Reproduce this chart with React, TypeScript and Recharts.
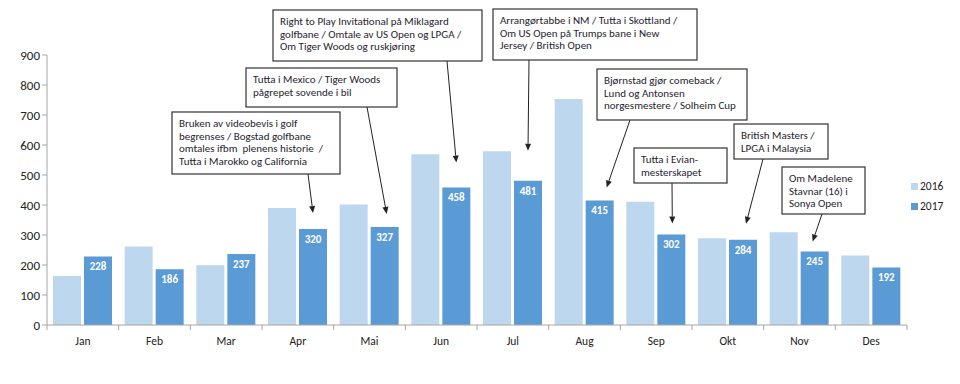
import { BarChart, Bar, XAxis, YAxis, LabelList } from 'recharts';

const months = ['Jan', 'Feb', 'Mar', 'Apr', 'Mai', 'Jun', 'Jul', 'Aug', 'Sep', 'Okt', 'Nov', 'Des'];
const sales2016 = [163, 262, 199, 390, 402, 569, 579, 753, 411, 289, 309, 232];
const sales2017 = [228, 186, 237, 320, 327, 458, 481, 415, 302, 284, 245, 192];
const yTicks = [0, 100, 200, 300, 400, 500, 600, 700, 800, 900];
const seriesNames = ['2016', '2017'];

// tekst i merknadsboksene
const noteTexts: Record<string, string[]> = {
    Apr: ['Bruken av videobevis i golf', 'begrenses / Bogstad golfbane', 'omtales ifbm  plenens historie  /', 'Tutta i Marokko og California'],
    Mai: ['Tutta i Mexico / Tiger Woods', 'pågrepet sovende i bil'],
    Jun: ['Right to Play Invitational på Miklagard', 'golfbane / Omtale av US Open og LPGA /', 'Om Tiger Woods og ruskjøring'],
    Jul: ['Arrangørtabbe i NM / Tutta i Skottland /', 'Om US Open på Trumps bane i New', 'Jersey / British Open'],
    Aug: ['Bjørnstad gjør comeback /', 'Lund og Antonsen', 'norgesmestere / Solheim Cup'],
    Sep: ['Tutta i Evian-', 'mesterskapet'],
    Okt: ['British Masters /', 'LPGA i Malaysia'],
    Nov: ['Om Madelene', 'Stavnar (16) i', 'Sonya Open'],
};

// plassering av boksene (piksler), pilstart og avstand over søylen
const noteLayout: Record<string, { x: number; y: number; w: number; h: number; sx: number; sy: number; dx: number; gap: number }> = {
    Apr: {x: 172, y: 112, w: 168, h: 62, sx: 308, sy: 174, dx: 0, gap: 16},
    Mai: {x: 246, y: 68, w: 151, h: 39, sx: 367, sy: 107, dx: 2, gap: 13},
    Jun: {x: 273, y: 10, w: 209, h: 51, sx: 447, sy: 61, dx: 0, gap: 25},
    Jul: {x: 493, y: 9, w: 204, h: 51, sx: 529, sy: 60, dx: 0, gap: 30},
    Aug: {x: 597, y: 69, w: 150, h: 51, sx: 630, sy: 120, dx: 7, gap: 13},
    Sep: {x: 634, y: 148, w: 93, h: 35, sx: 672, sy: 183, dx: 1, gap: 11},
    Okt: {x: 734, y: 124, w: 94, h: 35, sx: 763, sy: 159, dx: 3, gap: 16},
    Nov: {x: 782, y: 167, w: 83, h: 47, sx: 822, sy: 214, dx: -2, gap: 10},
};

const W = 960;
const H = 384;
const MARGIN = {top: 55, right: 53, bottom: 29, left: 0};
const Y_W = 47;
const BAND = (W - MARGIN.left - MARGIN.right - Y_W) / months.length;
const FONT = 'Carlito, Calibri, Lato, sans-serif';
const LIGHT = '#bdd7ee';
const DARK = '#5b9bd5';
const AXIS = '#a6a6a6';

const data = months.map((m, i) => ({month: m, y2016: sales2016[i], y2017: sales2017[i]}));

const MonthTick = (props: any) => {
    const {x, y, payload, index} = props;
    return (
        <g>
            <line x1={x - BAND / 2} x2={x - BAND / 2} y1={y} y2={y + 5} stroke={AXIS}/>
            {index === months.length - 1 && (
                <line x1={x + BAND / 2} x2={x + BAND / 2} y1={y} y2={y + 5} stroke={AXIS}/>
            )}
            <text x={x} y={y + 20} textAnchor="middle" fontSize={11.5} fill="#222" fontFamily={FONT}>
                {payload.value}
            </text>
        </g>
    );
};

const NoteLabel = (props: any) => {
    const {x, y, width, value} = props;
    const index = props.index ?? sales2017.indexOf(value);
    const m = months[index];
    const lines = noteTexts[m];
    const L = noteLayout[m];
    if (!lines || !L) return null;

    const ex = Number(x) + Number(width) / 2 + L.dx;
    const ey = Number(y) - L.gap;
    const ang = Math.atan2(ey - L.sy, ex - L.sx);
    const c = Math.cos(ang);
    const s = Math.sin(ang);
    const bx = ex - 7 * c;
    const by = ey - 7 * s;

    return (
        <g>
            <line x1={L.sx} y1={L.sy} x2={bx} y2={by} stroke="#222" strokeWidth={1}/>
            <polygon
                points={`${ex},${ey} ${bx + 3 * s},${by - 3 * c} ${bx - 3 * s},${by + 3 * c}`}
                fill="#222"
            />
            <rect x={L.x} y={L.y} width={L.w} height={L.h} fill="#fff" stroke="#333" strokeWidth={1.2}/>
            <text x={L.x + 7} y={L.y + 15} fontSize={11} fill="#1f2430" fontFamily={FONT}>
                {lines.map((t, i) => (
                    <tspan key={i} x={L.x + 7} y={L.y + 15 + i * 12.7} xmlSpace="preserve">{t}</tspan>
                ))}
            </text>
        </g>
    );
};

export default function App() {
    return (
        <div style={{position: 'absolute', left: 0, top: 0, width: W, height: H, background: '#fff'}}>
            <BarChart
                width={W}
                height={H}
                data={data}
                margin={MARGIN}
                barCategoryGap={6}
                barGap={3}
            >
                <XAxis
                    dataKey="month"
                    interval={0}
                    tickLine={false}
                    tickSize={0}
                    tickMargin={0}
                    axisLine={{stroke: AXIS}}
                    tick={<MonthTick/>}
                    height={30}
                />
                <YAxis
                    width={Y_W}
                    domain={[0, 900]}
                    ticks={yTicks}
                    interval={0}
                    tickSize={5}
                    axisLine={{stroke: AXIS}}
                    tickLine={{stroke: AXIS}}
                    tick={{fontSize: 13, fill: '#222', fontFamily: FONT}}
                />
                <Bar dataKey="y2016" name={seriesNames[0]} fill={LIGHT} isAnimationActive={false}/>
                <Bar dataKey="y2017" name={seriesNames[1]} fill={DARK} isAnimationActive={false}>
                    <LabelList
                        dataKey="y2017"
                        position="insideTop"
                        offset={6}
                        fill="#fff"
                        fontSize={11}
                        fontWeight="bold"
                        fontFamily={FONT}
                    />
                    <LabelList dataKey="y2017" content={<NoteLabel/>}/>
                </Bar>
            </BarChart>

            <div style={{position: 'absolute', left: 911, top: 179, fontFamily: FONT, fontSize: 11.5, color: '#222'}}>
                {seriesNames.map((name, i) => (
                    <div key={name} style={{display: 'flex', alignItems: 'center', height: 14, marginBottom: 6}}>
                        <span style={{width: 7, height: 7, background: i === 0 ? LIGHT : DARK, marginRight: 2}}/>
                        <span>{name}</span>
                    </div>
                ))}
            </div>
        </div>
    );
}
